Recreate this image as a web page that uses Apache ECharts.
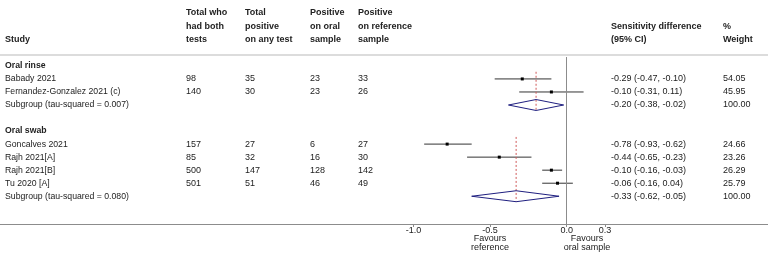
<!DOCTYPE html>
<html>
<head>
<meta charset="utf-8">
<script src="https://cdn.jsdelivr.net/npm/echarts@6/dist/echarts.min.js"></script>
<style>
html, body { margin: 0; padding: 0; background: #fff; }
#chart { width: 768px; height: 256px; }
</style>
</head>
<body>
<div id="chart"></div>
<script>
// rows of the table, top to bottom
var rowLabels = ['Oral rinse', 'Babady 2021', 'Fernandez-Gonzalez 2021 (c)', 'Subgroup (tau-squared = 0.007)', '',
	'Oral swab', 'Goncalves 2021', 'Rajh 2021[A]', 'Rajh 2021[B]', 'Tu 2020 [A]', 'Subgroup (tau-squared = 0.080)'];
var rowType = ['head', 'study', 'study', 'sub', 'blank', 'head', 'study', 'study', 'study', 'study', 'sub'];
var totalBoth = [null, 98, 140, null, null, null, 157, 85, 500, 501, null];
var totalPos = [null, 35, 30, null, null, null, 27, 32, 147, 51, null];
var posOral = [null, 23, 23, null, null, null, 6, 16, 128, 46, null];
var posRef = [null, 33, 26, null, null, null, 27, 30, 142, 49, null];
var estimate = [null, -0.29, -0.10, -0.20, null, null, -0.78, -0.44, -0.10, -0.06, -0.33];
var lower = [null, -0.47, -0.31, -0.38, null, null, -0.93, -0.65, -0.16, -0.16, -0.62];
var upper = [null, -0.10, 0.11, -0.02, null, null, -0.62, -0.23, -0.03, 0.04, -0.05];
var weight = [null, '54.05', '45.95', '100.00', null, null, '24.66', '23.26', '26.29', '25.79', '100.00'];

var tickValues = [-1, -0.5, 0, 0.25];
var tickLabels = ['-1.0', '-0.5', '0.0', '0.3'];

var headers = [
	['Study'],
	['Total who', 'had both', 'tests'],
	['Total', 'positive', 'on any test'],
	['Positive', 'on oral', 'sample'],
	['Positive', 'on reference', 'sample'],
	['Sensitivity difference', '(95% CI)'],
	['%', 'Weight']
];
var colX = [5, 186, 245, 310, 358, 611, 723];

var FONT = "'Liberation Sans', Arial, sans-serif";
var TXT = '#222';

function ciText(i) {
	return estimate[i].toFixed(2) + ' (' + lower[i].toFixed(2) + ', ' + upper[i].toFixed(2) + ')';
}

var tableData = [], studyData = [], subData = [];
var lastHead = 0;
for (var i = 0; i < rowLabels.length; i++) {
	tableData.push([0, i]);
	if (rowType[i] == 'head') lastHead = i;
	if (rowType[i] == 'study') studyData.push([lower[i], i, upper[i], estimate[i]]);
	if (rowType[i] == 'sub') subData.push([lower[i], i, upper[i], estimate[i], lastHead]);
}

function txt(str, x, y, bold, align, size) {
	return {
		type: 'text',
		style: {
			text: str, x: x, y: y, fill: TXT,
			font: (bold ? 'bold ' : '') + (size || 9) + 'px ' + FONT,
			textAlign: align || 'left', textVerticalAlign: 'middle'
		}
	};
}

// header texts
var graphics = [];
headers.forEach(function (lines, c) {
	lines.forEach(function (s, k) {
		var y = 40 - (lines.length - 1 - k) * 13.6;
		graphics.push(txt(s, colX[c], y, true));
	});
});
graphics.push({ type: 'rect', shape: { x: 0, y: 54, width: 768, height: 2 }, style: { fill: '#dcdcdc' } });
graphics.push(txt('Favours', 490, 239, false, 'center'));
graphics.push(txt('reference', 490, 248, false, 'center'));
graphics.push(txt('Favours', 587, 239, false, 'center'));
graphics.push(txt('oral sample', 587, 248, false, 'center'));

var myChart = echarts.init(document.getElementById('chart'));
var option = {
	animation: false,
	backgroundColor: '#fff',
	graphic: graphics,
	grid: { left: 0, right: 0, top: 57, bottom: 32 },
	xAxis: {
		type: 'value', position: 'bottom', min: -3.697, max: 1.313,
		splitLine: { show: false },
		axisLine: { show: true, onZero: false, lineStyle: { color: '#8c8c8c', width: 1 } },
		axisTick: { show: true, customValues: tickValues, length: 3, lineStyle: { color: '#8c8c8c' } },
		axisLabel: {
			customValues: tickValues, margin: 2, fontSize: 9, fontFamily: FONT, color: TXT,
			formatter: function (v) { return tickLabels[tickValues.indexOf(v)]; }
		}
	},
	yAxis: { type: 'value', inverse: true, min: -0.683, max: 12.13, show: false },
	series: [
		{
			type: 'custom', name: 'table', data: tableData, silent: true,
			renderItem: function (params, api) {
				var i = api.value(1);
				var y = api.coord([0, i])[1];
				var kids = [];
				if (rowLabels[i]) kids.push(txt(rowLabels[i], colX[0], y, rowType[i] == 'head', 'left', 8.7));
				if (rowType[i] == 'study') {
					kids.push(txt(String(totalBoth[i]), colX[1], y));
					kids.push(txt(String(totalPos[i]), colX[2], y));
					kids.push(txt(String(posOral[i]), colX[3], y));
					kids.push(txt(String(posRef[i]), colX[4], y));
				}
				if (estimate[i] != null) {
					kids.push(txt(ciText(i), colX[5], y));
					kids.push(txt(weight[i], colX[6], y));
				}
				return { type: 'group', children: kids };
			},
			markLine: {
				silent: true, symbol: 'none', label: { show: false },
				lineStyle: { color: '#8c8c8c', type: 'solid', width: 1 },
				data: [{ xAxis: 0 }]
			}
		},
		{
			type: 'custom', name: 'studies', data: studyData, silent: true,
			renderItem: function (params, api) {
				var a = api.coord([api.value(0), api.value(1)]);
				var b = api.coord([api.value(2), api.value(1)]);
				var m = api.coord([api.value(3), api.value(1)]);
				return {
					type: 'group', children: [
						{ type: 'line', shape: { x1: a[0], y1: a[1], x2: b[0], y2: b[1] }, style: { stroke: '#333', lineWidth: 1 } },
						{ type: 'rect', shape: { x: m[0] - 1.5, y: m[1] - 1.5, width: 3, height: 3 }, style: { fill: '#000' } }
					]
				};
			}
		},
		{
			type: 'custom', name: 'subgroups', data: subData, silent: true,
			renderItem: function (params, api) {
				var row = api.value(1), est = api.value(3);
				var l = api.coord([api.value(0), row]);
				var r = api.coord([api.value(2), row]);
				var t = api.coord([est, row - 0.42]);
				var bt = api.coord([est, row + 0.42]);
				var d1 = api.coord([est, api.value(4) + 0.45]);
				var d2 = api.coord([est, row + 0.42]);
				return {
					type: 'group', children: [
						{ type: 'line', shape: { x1: d1[0], y1: d1[1], x2: d2[0], y2: d2[1] },
							style: { stroke: '#d05a5a', lineWidth: 1, lineDash: [2, 2] } },
						{ type: 'polygon', shape: { points: [l, t, r, bt] },
							style: { fill: 'none', stroke: '#1f1f80', lineWidth: 1 } }
					]
				};
			}
		}
	]
};
myChart.setOption(option);
</script>
</body>
</html>
